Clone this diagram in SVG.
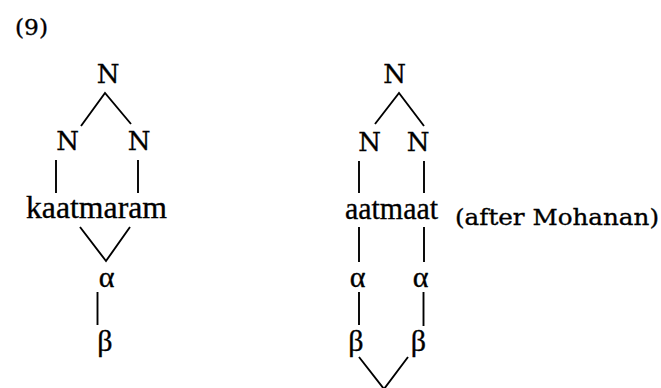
<svg xmlns="http://www.w3.org/2000/svg" width="661" height="388" viewBox="0 0 661 388">
<style>
text{fill:#000;stroke:#000;stroke-width:0.35}
.n{font-family:"DejaVu Serif","Liberation Serif",serif;font-size:26px;text-anchor:middle}
.w{font-family:"Liberation Serif","Times New Roman",serif;font-size:31px}
.g{font-family:"Liberation Serif","Times New Roman",serif;font-size:30px;text-anchor:middle}
.c{font-family:"DejaVu Serif","Liberation Serif",serif;font-size:23px}
.e{fill:none;stroke:#000;stroke-width:1.9;stroke-linecap:butt;stroke-linejoin:miter}
</style>
<rect width="661" height="388" fill="#fff"/>
<g id="label"><text class="c" x="15" y="34.5" textLength="33" lengthAdjust="spacingAndGlyphs">(9)</text></g>
<g id="connectors">
<polyline class="e" points="81,126 105,93 131,124"/>
<line class="e" x1="56" y1="160" x2="56" y2="193"/>
<line class="e" x1="138" y1="160" x2="138" y2="193"/>
<polyline class="e" points="80,227 106,261 130,227"/>
<line class="e" x1="97.5" y1="292" x2="97.5" y2="325"/>
<polyline class="e" points="375,124 399,93 424,126"/>
<line class="e" x1="359" y1="161" x2="359" y2="193"/>
<line class="e" x1="424" y1="161" x2="424" y2="193"/>
<line class="e" x1="359" y1="227" x2="359" y2="262"/>
<line class="e" x1="424" y1="227" x2="424" y2="262"/>
<line class="e" x1="359" y1="292" x2="359" y2="325"/>
<line class="e" x1="423.5" y1="292" x2="423.5" y2="326"/>
<polyline class="e" points="359,357 384,389 408,357"/>
</g>
<g id="L-N-top"><text class="n" x="108" y="83">N</text></g>
<g id="L-N-left"><text class="n" x="67.5" y="150">N</text></g>
<g id="L-N-right"><text class="n" x="139" y="150">N</text></g>
<g id="L-word"><text class="w" x="26" y="218" textLength="141" lengthAdjust="spacingAndGlyphs">kaatmaram</text></g>
<g id="L-alpha"><text class="g" x="106.5" y="287">α</text></g>
<g id="L-beta"><text class="g" x="105" y="351">β</text></g>
<g id="R-N-top"><text class="n" x="394.5" y="83">N</text></g>
<g id="R-N-left"><text class="n" x="369.5" y="151">N</text></g>
<g id="R-N-right"><text class="n" x="418" y="151">N</text></g>
<g id="R-word"><text class="w" x="345" y="219" textLength="93" lengthAdjust="spacingAndGlyphs">aatmaat</text></g>
<g id="R-note"><text class="c" x="455" y="225" textLength="204" lengthAdjust="spacingAndGlyphs">(after Mohanan)</text></g>
<g id="R-alpha-left"><text class="g" x="357.5" y="287">α</text></g>
<g id="R-alpha-right"><text class="g" x="420.5" y="287">α</text></g>
<g id="R-beta-left"><text class="g" x="356" y="351">β</text></g>
<g id="R-beta-right"><text class="g" x="418.5" y="351">β</text></g>
</svg>
